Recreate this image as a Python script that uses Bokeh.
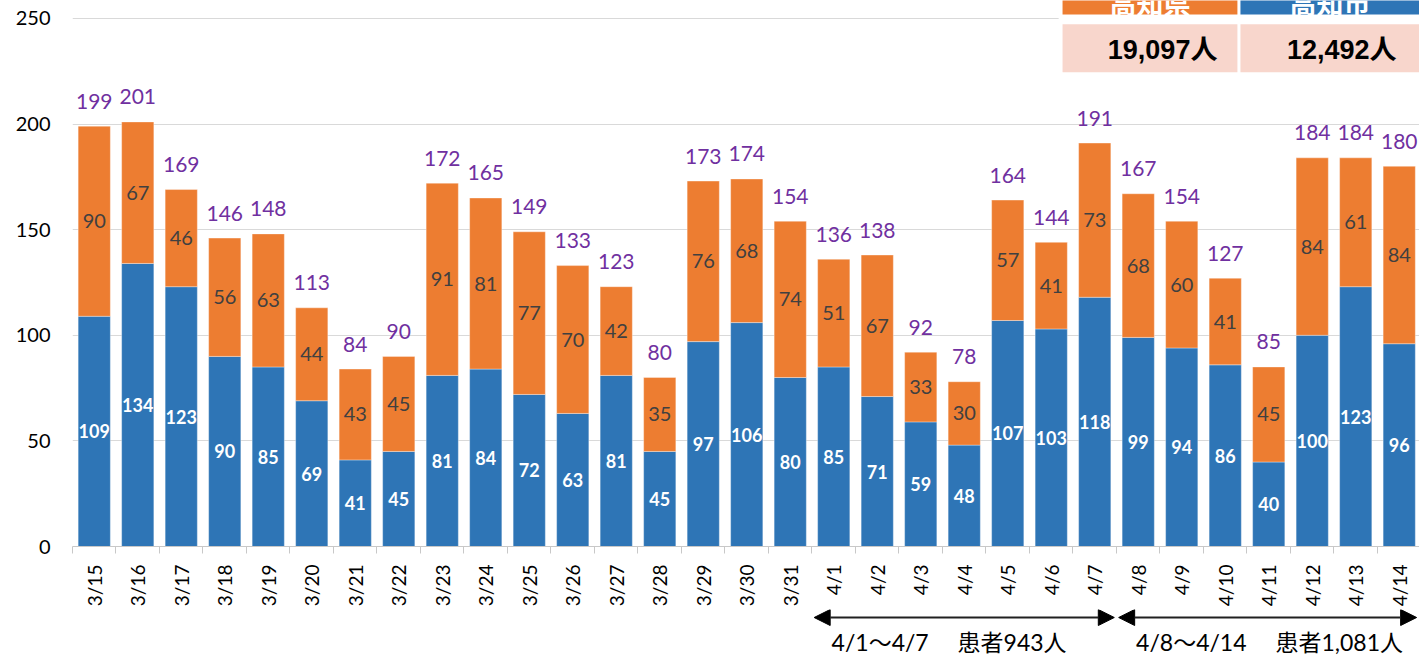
import math
from bokeh.plotting import figure
from bokeh.models import ColumnDataSource, FixedTicker, Range1d, Arrow, NormalHead
from bokeh.layouts import column
from bokeh.core.properties import value
from bokeh.embed import file_html
from bokeh.resources import INLINE

# ---------------- data ----------------
dates = ["3/15", "3/16", "3/17", "3/18", "3/19", "3/20", "3/21", "3/22", "3/23", "3/24",
         "3/25", "3/26", "3/27", "3/28", "3/29", "3/30", "3/31", "4/1", "4/2", "4/3",
         "4/4", "4/5", "4/6", "4/7", "4/8", "4/9", "4/10", "4/11", "4/12", "4/13", "4/14"]
city = [109, 134, 123, 90, 85, 69, 41, 45, 81, 84, 72, 63, 81, 45, 97, 106, 80,
        85, 71, 59, 48, 107, 103, 118, 99, 94, 86, 40, 100, 123, 96]
other = [90, 67, 46, 56, 63, 44, 43, 45, 91, 81, 77, 70, 42, 35, 76, 68, 74,
         51, 67, 33, 30, 57, 41, 73, 68, 60, 41, 45, 84, 61, 84]
totals = [199, 201, 169, 146, 148, 113, 84, 90, 172, 165, 149, 133, 123, 80, 173, 174, 154,
          136, 138, 92, 78, 164, 144, 191, 167, 154, 127, 85, 184, 184, 180]
y_ticks = [0, 50, 100, 150, 200, 250]
table_headers = ["高知県", "高知市"]
table_values = ["19,097人", "12,492人"]
week_labels = ["4/1～4/7　 患者943人", "4/8～4/14　 患者1,081人"]
week_first = ["4/1", "4/8"]
week_last = ["4/7", "4/14"]

BLUE = "#2E75B6"
ORANGE = "#ED7D31"
PURPLE = "#7030A0"
PINK = "#F8D6CC"
FONT = value("Lato")
JP = value("Lato, 'Noto Sans CJK JP'")

x = list(range(len(dates)))
src = ColumnDataSource(dict(
    x=x, city=city, other=other, totals=totals,
    city_mid=[c / 2 for c in city],
    other_mid=[c + o / 2 for c, o in zip(city, other)],
    city_lbl=[str(v) for v in city],
    other_lbl=[str(v) for v in other],
    total_lbl=[str(v) for v in totals],
))

W = 1419
p = figure(width=W, height=609, x_range=Range1d(-0.5, 30.466), y_range=Range1d(0, 258.5),
           output_backend="svg", toolbar_location=None,
           min_border_left=72, min_border_right=0, min_border_top=0, min_border_bottom=62)
p.outline_line_color = None
p.background_fill_color = "white"

p.vbar_stack(["city", "other"], x="x", width=0.74, fill_color=[BLUE, ORANGE],
             line_color="white", line_alpha=0.35, line_width=1, source=src)

p.text(x="x", y="city_mid", text="city_lbl", source=src, text_align="center",
       text_baseline="middle", text_color="white", text_font_style="bold",
       text_font_size="18px", text_font=FONT)
p.text(x="x", y="other_mid", text="other_lbl", source=src, text_align="center",
       text_baseline="middle", text_color="#404040", text_font_size="20px", text_font=FONT)
p.text(x="x", y="totals", text="total_lbl", source=src, text_align="center",
       text_baseline="alphabetic", y_offset=-25, text_color=PURPLE,
       text_font_size="21px", text_font=FONT)

# axes
p.xaxis.ticker = FixedTicker(ticks=x, minor_ticks=[i + 0.5 for i in range(-1, len(dates))])
p.xaxis.major_label_overrides = {i: d for i, d in enumerate(dates)}
p.xaxis.major_label_orientation = math.pi / 2
p.xaxis.major_tick_line_color = None
p.xaxis.major_tick_out = 0
p.xaxis.minor_tick_line_color = "#c8c8c8"
p.xaxis.minor_tick_out = 7
p.xaxis.minor_tick_in = 0
p.xaxis.axis_line_color = "#c8c8c8"
p.xaxis.major_label_standoff = 11
p.xaxis.major_label_text_font = "Lato"
p.xaxis.major_label_text_font_size = "19px"
p.xaxis.major_label_text_color = "black"

p.yaxis.ticker = FixedTicker(ticks=y_ticks)
p.yaxis.axis_line_color = None
p.yaxis.major_tick_line_color = None
p.yaxis.minor_tick_line_color = None
p.yaxis.major_tick_out = 0
p.yaxis.major_label_standoff = 22
p.yaxis.major_label_text_font = "Lato"
p.yaxis.major_label_text_font_size = "20px"
p.yaxis.major_label_text_color = "black"

p.xgrid.grid_line_color = None
p.ygrid.grid_line_color = "#d9d9d9"
p.ygrid.grid_line_width = 1

# table at top right
p.quad(left=[22.17], right=[31], bottom=[223.5], top=[260], fill_color="white", line_color=None)
cell_left = [22.26, 26.35]
cell_right = [26.28, 30.6]
p.quad(left=cell_left, right=cell_right, bottom=[251.9] * 2, top=[260] * 2,
       fill_color=[ORANGE, BLUE], line_color=None)
p.quad(left=cell_left, right=cell_right, bottom=[224.5] * 2, top=[247.2] * 2,
       fill_color=PINK, line_color=None)
p.text(x=[(l + r) / 2 for l, r in zip(cell_left, [26.28, 30.47])], y=[257.6] * 2, text=table_headers,
       text_align="center", text_baseline="alphabetic", text_color="white",
       text_font_style="bold", text_font_size="27px", text_font=value("Noto Sans CJK JP"))
p.text(x=[25.82, 29.94], y=[234.9] * 2, text=table_values, text_align="right",
       text_baseline="middle", text_color="black", text_font_style="bold",
       text_font_size="27px", text_font=value("Liberation Sans, 'Noto Sans CJK JP'"))

# ---------------- week annotation strip ----------------
p2 = figure(width=W, height=48, x_range=p.x_range, y_range=Range1d(0, 48),
            output_backend="svg", toolbar_location=None, x_axis_type=None, y_axis_type=None,
            min_border_left=72, min_border_right=0, min_border_top=0, min_border_bottom=0)
p2.outline_line_color = None
p2.xgrid.grid_line_color = None
p2.ygrid.grid_line_color = None

week_start = [dates.index(d) - 0.45 for d in week_first]
week_end = [dates.index(d) + 0.45 for d in week_last]
week_end[-1] = min(week_end[-1], 30.4)
for s, e in zip(week_start, week_end):
    p2.add_layout(Arrow(start=NormalHead(size=16, fill_color="black", line_color="black"),
                        end=NormalHead(size=16, fill_color="black", line_color="black"),
                        x_start=s, y_start=40, x_end=e, y_end=40,
                        line_color="#202020", line_width=2))
p2.text(x=[s + 0.4 for s in week_start], y=[16, 16], text=week_labels, text_align="left",
        text_baseline="middle", text_color="black", text_font_size="23px", text_font=JP)

layout = column(p, p2, spacing=0)
open("out.html", "w").write(file_html(layout, INLINE))
